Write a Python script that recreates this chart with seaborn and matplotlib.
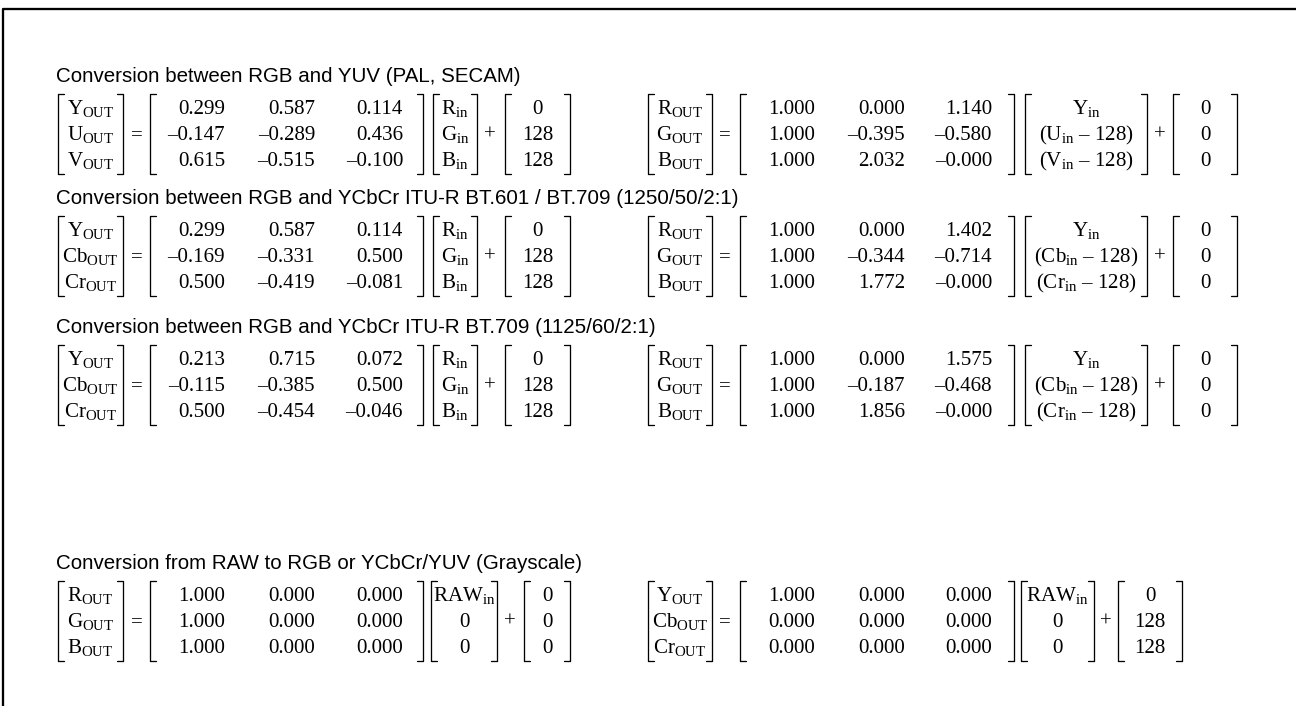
import numpy as np
import matplotlib
matplotlib.use("Agg")
import matplotlib.pyplot as plt
import seaborn as sns

# ---------------- data ----------------
TITLES = [
    "Conversion between RGB and YUV (PAL, SECAM)",
    "Conversion between RGB and YCbCr ITU-R BT.601 / BT.709 (1250/50/2:1)",
    "Conversion between RGB and YCbCr ITU-R BT.709 (1125/60/2:1)",
    "Conversion from RAW to RGB or YCbCr/YUV (Grayscale)",
]

# left-hand equations (forward)
OUT_L1 = ["Y", "U", "V"]
OUT_L2 = ["Y", "Cb", "Cr"]
OUT_L3 = ["Y", "Cb", "Cr"]
OUT_L4 = ["R", "G", "B"]
IN_L1 = ["R", "G", "B"]
IN_L2 = ["R", "G", "B"]
IN_L3 = ["R", "G", "B"]
IN_L4 = ["RAW", "0", "0"]
M_L1 = [[0.299, 0.587, 0.114], [-0.147, -0.289, 0.436], [0.615, -0.515, -0.100]]
M_L2 = [[0.299, 0.587, 0.114], [-0.169, -0.331, 0.500], [0.500, -0.419, -0.081]]
M_L3 = [[0.213, 0.715, 0.072], [-0.115, -0.385, 0.500], [0.500, -0.454, -0.046]]
M_L4 = [[1.000, 0.000, 0.000], [1.000, 0.000, 0.000], [1.000, 0.000, 0.000]]
OFF_L1 = [0, 128, 128]
OFF_L2 = [0, 128, 128]
OFF_L3 = [0, 128, 128]
OFF_L4 = [0, 0, 0]

# right-hand equations (inverse)
OUT_R1 = ["R", "G", "B"]
OUT_R2 = ["R", "G", "B"]
OUT_R3 = ["R", "G", "B"]
OUT_R4 = ["Y", "Cb", "Cr"]
IN_R1 = ["Y", "U", "V"]
IN_R2 = ["Y", "Cb", "Cr"]
IN_R3 = ["Y", "Cb", "Cr"]
IN_R4 = ["RAW", "0", "0"]
M_R1 = [[1.000, 0.000, 1.140], [1.000, -0.395, -0.580], [1.000, 2.032, -0.000]]
M_R2 = [[1.000, 0.000, 1.402], [1.000, -0.344, -0.714], [1.000, 1.772, -0.000]]
M_R3 = [[1.000, 0.000, 1.575], [1.000, -0.187, -0.468], [1.000, 1.856, -0.000]]
M_R4 = [[1.000, 0.000, 0.000], [0.000, 0.000, 0.000], [0.000, 0.000, 0.000]]
OFF_R1 = [0, 0, 0]
OFF_R2 = [0, 0, 0]
OFF_R3 = [0, 0, 0]
OFF_R4 = [0, 128, 128]

# ---------------- style ----------------
sns.set_theme(style="white")
plt.rcParams["font.family"] = ["Liberation Serif", "DejaVu Serif"]
plt.rcParams["mathtext.fontset"] = "custom"
plt.rcParams["mathtext.rm"] = "Liberation Serif"
plt.rcParams["mathtext.it"] = "Liberation Serif:italic"
plt.rcParams["mathtext.bf"] = "Liberation Serif:bold"

W, H = 1296, 706
DPI = 100
PX = 72.0 / DPI           # points per pixel
FS = 21.0 * PX            # matrix font size
TFS = 20.5 * PX           # title font size
ROW_GAP = 26
SERIF = 6
LW = 1.3 * PX

fig = plt.figure(figsize=(W / DPI, H / DPI), dpi=DPI)
ax = fig.add_axes([0, 0, 1, 1])
ax.set_xlim(0, W)
ax.set_ylim(H, 0)
ax.axis("off")

# outer frame (left + top)
ax.plot([3, 3, W], [H, 9, 9], color="black", lw=2.3 * PX, solid_capstyle="projecting")


def fmt(v):
    return f"{v:.3f}".replace("-", "\u2013")


def out_label(n):
    return rf"$\mathrm{{{n}}}_{{\mathrm{{OUT}}}}$"


def in_label(n, i, inverse):
    if n in ("0",):
        return n
    lab = rf"$\mathrm{{{n}}}_{{\mathrm{{in}}}}$"
    if inverse and i > 0:
        return "(" + lab + " \u2013 128)"
    return lab


def bracket(x0, x1, y0, y1):
    ax.plot([x0 + SERIF, x0, x0, x0 + SERIF], [y0, y0, y1, y1], color="black", lw=LW)
    ax.plot([x1 - SERIF, x1, x1, x1 - SERIF], [y0, y0, y1, y1], color="black", lw=LW)


def text(x, y, s, ha="center"):
    ax.text(x, y, s, ha=ha, va="baseline", fontsize=FS, color="black",
            family=["Liberation Serif", "DejaVu Serif"])


def equation(lay, row1, outs, mat, ins, offs, inverse):
    rows = [row1 + i * ROW_GAP for i in range(3)]
    base = [r + 7 for r in rows]
    y0, y1 = rows[0] - 13, rows[2] + 15
    # output vector
    bracket(lay["out"][0], lay["out"][1], y0, y1)
    cx = (lay["out"][0] + lay["out"][1]) / 2
    for b, n in zip(base, outs):
        text(cx, b, out_label(n))
    text(lay["eq"], rows[1] + 7, "=")
    # matrix
    bracket(lay["mat"][0], lay["mat"][1], y0, y1)
    for b, row in zip(base, mat):
        for cxr, v in zip(lay["cols"], row):
            text(cxr, b, fmt(v), ha="right")
    # input vector
    bracket(lay["inp"][0], lay["inp"][1], y0, y1)
    cx = (lay["inp"][0] + lay["inp"][1]) / 2
    for i, (b, n) in enumerate(zip(base, ins)):
        text(cx, b, in_label(n, i, inverse))
    text(lay["plus"], rows[1] + 7, "+")
    # offset vector
    bracket(lay["off"][0], lay["off"][1], y0, y1)
    cx = (lay["off"][0] + lay["off"][1]) / 2
    for b, v in zip(base, offs):
        text(cx, b, str(v))


LAY_L = dict(out=(58, 123), eq=137, mat=(150, 423), cols=(225, 315, 403),
             inp=(433, 477), plus=490, off=(505, 570))
LAY_R = dict(out=(648, 712), eq=725, mat=(740, 1014), cols=(815, 905, 992),
             inp=(1025, 1147), plus=1160, off=(1173, 1237))
LAY_L4 = dict(LAY_L, inp=(431, 497), plus=510, off=(524, 570))
LAY_R4 = dict(LAY_R, inp=(1021, 1094), plus=1106, off=(1118, 1182))

ROW1 = [107, 229, 358, 594]

left = [(OUT_L1, M_L1, IN_L1, OFF_L1), (OUT_L2, M_L2, IN_L2, OFF_L2),
        (OUT_L3, M_L3, IN_L3, OFF_L3), (OUT_L4, M_L4, IN_L4, OFF_L4)]
right = [(OUT_R1, M_R1, IN_R1, OFF_R1), (OUT_R2, M_R2, IN_R2, OFF_R2),
         (OUT_R3, M_R3, IN_R3, OFF_R3), (OUT_R4, M_R4, IN_R4, OFF_R4)]

for k in range(4):
    r1 = ROW1[k]
    ax.text(56, r1 - 25, TITLES[k], ha="left", va="baseline", fontsize=TFS,
            family=["Liberation Sans", "DejaVu Sans"], color="black")
    ll = LAY_L4 if k == 3 else LAY_L
    rl = LAY_R4 if k == 3 else LAY_R
    o, m, i, f = left[k]
    equation(ll, r1, o, m, i, f, inverse=False)
    o, m, i, f = right[k]
    equation(rl, r1, o, m, i, f, inverse=(k < 3))

fig.savefig("out.png", dpi=DPI, facecolor="white")
